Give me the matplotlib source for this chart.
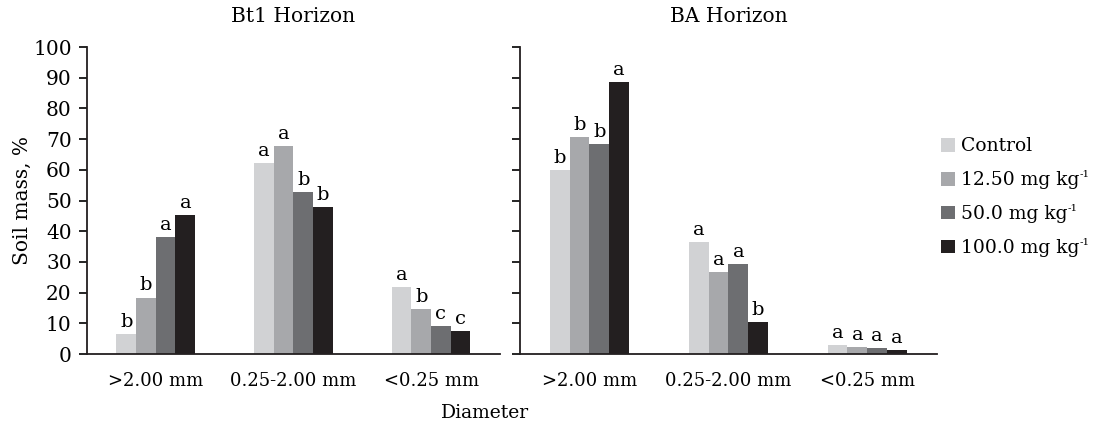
import matplotlib
matplotlib.use("Agg")
import matplotlib.pyplot as plt
import numpy as np
from matplotlib.patches import Patch

plt.rcParams['font.family'] = ['DejaVu Serif']
plt.rcParams['mathtext.fontset'] = 'dejavuserif'

categories = [">2.00 mm", "0.25-2.00 mm", "<0.25 mm"]
series_names = ["Control", "12.50 mg kg", "50.0 mg kg", "100.0 mg kg"]
series_sup = ["", "-1", "-1", "-1"]
colors = ["#d1d2d4", "#a7a8ab", "#6d6e71", "#231f20"]

bt1_values = [
    [6.5, 62.3, 21.8],
    [18.4, 67.8, 14.7],
    [38.2, 52.8, 9.1],
    [45.3, 47.9, 7.5],
]
bt1_letters = [
    ["b", "a", "a"],
    ["b", "a", "b"],
    ["a", "b", "c"],
    ["a", "b", "c"],
]
ba_values = [
    [60.0, 36.5, 2.9],
    [70.8, 26.7, 2.3],
    [68.5, 29.3, 2.0],
    [88.7, 10.4, 1.3],
]
ba_letters = [
    ["b", "a", "a"],
    ["b", "a", "a"],
    ["b", "a", "a"],
    ["a", "b", "a"],
]
titles = ["Bt1 Horizon", "BA Horizon"]

fig = plt.figure(figsize=(10.94, 4.24), dpi=100)
ax1 = fig.add_axes([0.0795, 0.165, 0.3775, 0.724])
ax2 = fig.add_axes([0.4753, 0.165, 0.381, 0.724])

width = 0.143
x = np.arange(len(categories))
for ax, vals, lets, title in [(ax1, bt1_values, bt1_letters, titles[0]), (ax2, ba_values, ba_letters, titles[1])]:
    for i, (v, l) in enumerate(zip(vals, lets)):
        pos = x + (i - 1.5) * width
        ax.bar(pos, v, width, color=colors[i], label=series_names[i])
        for px, py, t in zip(pos, v, l):
            ax.text(px, py + 1.0, t, ha='center', va='bottom', fontsize=14)
    ax.set_xlim(-0.5, 2.5)
    ax.set_ylim(0, 100)
    ax.set_yticks(np.arange(0, 101, 10))
    ax.set_xticks(x)
    ax.set_xticklabels(categories, fontsize=13)
    ax.tick_params(axis='x', length=0, pad=13)
    ax.tick_params(axis='y', direction='out', length=6, width=1.2, labelsize=14.5, pad=5)
    for s in ['top', 'right']:
        ax.spines[s].set_visible(False)
    for s in ['left', 'bottom']:
        ax.spines[s].set_linewidth(1.3)
        ax.spines[s].set_color('#231f20')
    ax.set_title(title, fontsize=14.5, pad=18)

ax2.tick_params(axis='y', labelleft=False)
fig.text(22 / 1094, 0.527, "Soil mass, %", rotation=90, ha='center', va='center', fontsize=14.5)
fig.text(0.443, 0.027, "Diameter", ha='center', va='center', fontsize=13.5)

handles = [Patch(facecolor=c, edgecolor='none') for c in colors]
leg = fig.legend(handles, series_names, loc='center left', bbox_to_anchor=(0.845, 0.535),
                 frameon=False, fontsize=13.5, handlelength=0.75, handleheight=0.75,
                 handletextpad=0.3, labelspacing=0.85, borderpad=0.4)

fig.canvas.draw()
renderer = fig.canvas.get_renderer()
inv = fig.transFigure.inverted()
for txt, sup in zip(leg.get_texts(), series_sup):
    if not sup:
        continue
    bb = txt.get_window_extent(renderer)
    x1, y1 = inv.transform((bb.x1 + 0.5, bb.y1 + 1))
    fig.text(x1, y1, sup, ha='left', va='top', fontsize=7.5)

fig.savefig("out.png", dpi=100)
